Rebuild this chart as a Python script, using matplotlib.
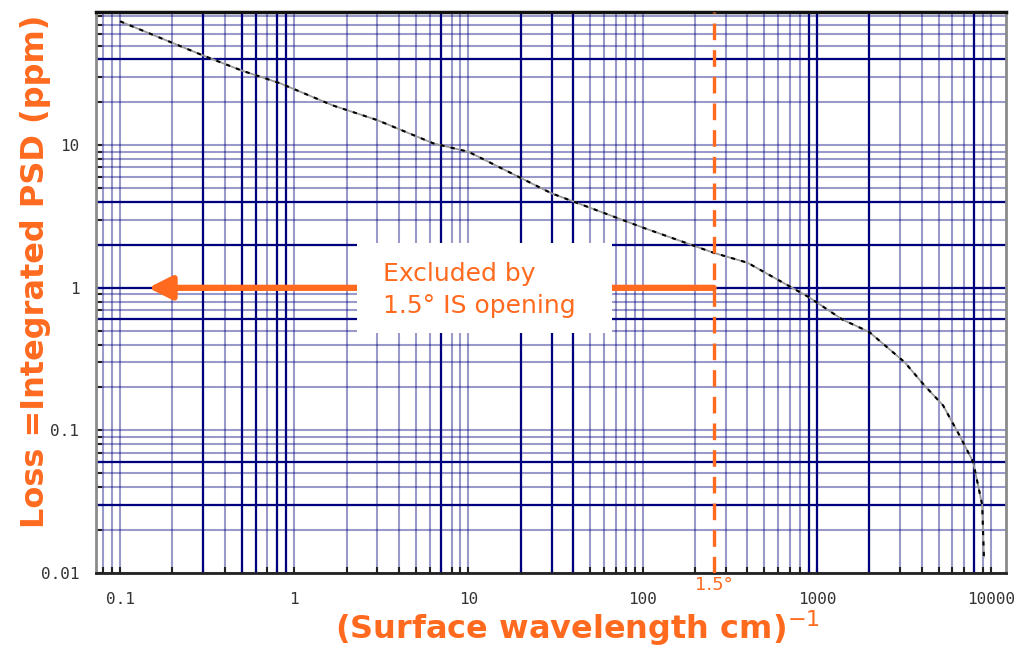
import matplotlib
matplotlib.use("Agg")
import matplotlib.pyplot as plt
from matplotlib.patches import Rectangle
from matplotlib.ticker import LogLocator, NullFormatter, FixedLocator

# curve
freq = [0.1, 0.3, 0.5, 0.83, 1.67, 3.0, 6.3, 10, 30, 100, 256, 400, 900,
        1400, 2000, 3200, 4100, 5300, 6600, 7900, 8900, 9100]
loss = [74, 42.6, 33.4, 27.2, 19.0, 15.0, 10.3, 9.0, 4.6, 2.65, 1.76, 1.5,
        0.86, 0.60, 0.49, 0.30, 0.21, 0.15, 0.092, 0.060, 0.030, 0.013]

xticks = [0.1, 1, 10, 100, 1000, 10000]
xtick_labels = ["0.1", "1", "10", "100", "1000", "10000"]
yticks = [0.01, 0.1, 1, 10]
ytick_labels = ["0.01", "0.1", "1", "10"]

# grid lines that print darker in the original
dark_x = [0.3, 0.5, 0.6, 0.8, 0.9, 7, 20, 30, 40, 900, 1000, 2000, 8000]
dark_y = [40, 4, 2, 1, 0.6, 0.06, 0.03]

cut_angle = 256  # 1.5 deg opening
arrow_tip = 0.145

orange = "#FF6A1F"
navy = "#00007F"

fig = plt.figure(figsize=(10.29, 6.48), dpi=100)
ax = fig.add_axes([96 / 1029, 75 / 648, 910 / 1029, 561 / 648])
ax.set_xscale("log")
ax.set_yscale("log")
ax.set_xlim(0.0728, 12190)
ax.set_ylim(0.01, 86)

ax.xaxis.set_minor_locator(LogLocator(base=10, subs=range(1, 10), numticks=50))
ax.yaxis.set_minor_locator(LogLocator(base=10, subs=range(1, 10), numticks=50))
ax.xaxis.set_minor_formatter(NullFormatter())
ax.yaxis.set_minor_formatter(NullFormatter())
ax.grid(which="both", color=navy, alpha=0.4, lw=1.5, zorder=0)
for v in dark_x:
    ax.axvline(v, color=navy, lw=1.6, zorder=1)
for v in dark_y:
    ax.axhline(v, color=navy, lw=1.6, zorder=1)
ax.set_axisbelow(True)

ax.xaxis.set_major_locator(FixedLocator(xticks))
ax.yaxis.set_major_locator(FixedLocator(yticks))
ax.set_xticklabels(xtick_labels, family="DejaVu Sans Mono", fontsize=11.5, color="#333333")
ax.set_yticklabels(ytick_labels, family="DejaVu Sans Mono", fontsize=11.5, color="#333333")
ax.tick_params(which="both", direction="in", length=4, width=1.5, color="#222222")
ax.tick_params(axis="x", which="major", pad=14)
ax.tick_params(axis="y", which="major", pad=12)

for side in ["left", "right"]:
    ax.spines[side].set_color("#8a8a8a")
    ax.spines[side].set_linewidth(2)
ax.spines["top"].set_color("#111111")
ax.spines["top"].set_linewidth(2.5)
ax.spines["bottom"].set_color("#222222")
ax.spines["bottom"].set_linewidth(2)

# the loss curve: grey under black dashes
ax.plot(freq, loss, color="#9a9a9a", lw=1.3, zorder=3)
ax.plot(freq, loss, color="black", lw=1.5, dashes=(2, 3), zorder=3)

ax.axvline(cut_angle, color=orange, lw=2.4, linestyle=(0, (5, 3)), zorder=4)
ax.annotate("", xy=(arrow_tip, 1), xytext=(cut_angle, 1),
            arrowprops=dict(arrowstyle="-|>,head_length=0.7,head_width=0.35",
                            lw=4.5, color=orange, mutation_scale=20,
                            shrinkA=0, shrinkB=0), zorder=4)

ax.add_patch(Rectangle((2.29, 0.48), 66.7 - 2.29, 2.07 - 0.48,
                       facecolor="white", edgecolor="none", zorder=5))
ax.text(3.24, 0.97, "Excluded by\n1.5° IS opening", color=orange, fontsize=18,
        ha="left", va="center", linespacing=1.4, zorder=6)

ax.text(cut_angle, -0.022, "1.5°", transform=ax.get_xaxis_transform(),
        color=orange, fontsize=13, ha="center", va="center")

fig.text(578 / 1029, 1 - 628 / 648, r"(Surface wavelength cm)$^{-1}$",
         color=orange, fontsize=23, fontweight="bold", ha="center", va="center")
fig.text(36 / 1029, 1 - 271 / 648, "Loss =Integrated PSD (ppm)", rotation=90,
         color=orange, fontsize=23, fontweight="bold", ha="center", va="center")

fig.savefig("out.png", dpi=100)
